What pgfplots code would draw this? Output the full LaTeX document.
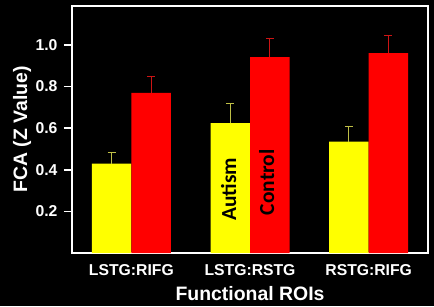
\documentclass[border=0pt]{standalone}
\usepackage{pgfplots}
\pgfplotsset{compat=1.18}
\usepackage{fontspec}
\setmainfont{Liberation Sans}
\newfontfamily\calib{Carlito}
\definecolor{ybar}{RGB}{255,255,0}
\definecolor{rbar}{RGB}{255,0,0}
\definecolor{yerr}{RGB}{190,190,70}
\definecolor{rerr}{RGB}{205,20,20}
\begin{document}
\begin{tikzpicture}[x=1bp,y=1bp]
\fill[black] (-72,-53) rectangle (362,253);
\begin{axis}[
  at={(0,0)}, anchor=south west,
  scale only axis, width=356bp, height=247bp,
  ybar=0pt, bar width=39.5bp,
  xmin=-0.5, xmax=2.5, ymin=0, ymax=1.186,
  axis line style={white, line width=1.6bp},
  xtick={0,1,2}, xticklabels={LSTG:RIFG,LSTG:RSTG,RSTG:RIFG},
  ytick={0.2,0.4,0.6,0.8,1.0},
  yticklabel style={/pgf/number format/fixed,/pgf/number format/fixed zerofill,/pgf/number format/precision=1, xshift=-3bp},
  /pgf/number format/assume math mode=true,
  tick align=outside, ytick pos=left, xtick pos=bottom,
  major tick length=8bp,
  x tick style={draw=none},
  y tick style={white, line width=1.6bp},
  tick label style={white, font=\fontsize{15.8}{16}\selectfont\bfseries},
  xticklabel style={yshift=0bp},
  xlabel={Functional ROIs}, ylabel={FCA (Z Value)},
  label style={white, font=\fontsize{19.5}{20}\selectfont\bfseries},
  xlabel style={at={(axis description cs:0.5,0)}, anchor=center, yshift=-41bp},
  ylabel style={anchor=center, rotate=0},
  every axis y label/.append style={at={(-50bp,123.5bp)}},
  error bars/y dir=plus, error bars/y explicit,
  axis background/.style={fill=black},
]
\addplot[fill=ybar, draw=none,
  error bars/error bar style={yerr, line width=0.9bp},
  error bars/error mark options={yerr, rotate=90, mark size=4bp, line width=0.9bp}]
  coordinates {(0,0.429) +- (0,0.055) (1,0.624) +- (0,0.096) (2,0.535) +- (0,0.073)};
\addplot[fill=rbar, draw=none,
  error bars/error bar style={rerr, line width=0.9bp},
  error bars/error mark options={rerr, rotate=90, mark size=4bp, line width=0.9bp}]
  coordinates {(0,0.769) +- (0,0.080) (1,0.940) +- (0,0.090) (2,0.960) +- (0,0.084)};
\node[rotate=90, font=\calib\fontsize{21.5}{22}\selectfont\bfseries, text=black] at (axis cs:0.82,0.305) {Autism};
\node[rotate=90, font=\calib\fontsize{21.5}{22}\selectfont\bfseries, text=black] at (axis cs:1.14,0.34) {Control};
\end{axis}
\pgfresetboundingbox
\path (-72,-53) rectangle (362,253);
\end{tikzpicture}
\end{document}
